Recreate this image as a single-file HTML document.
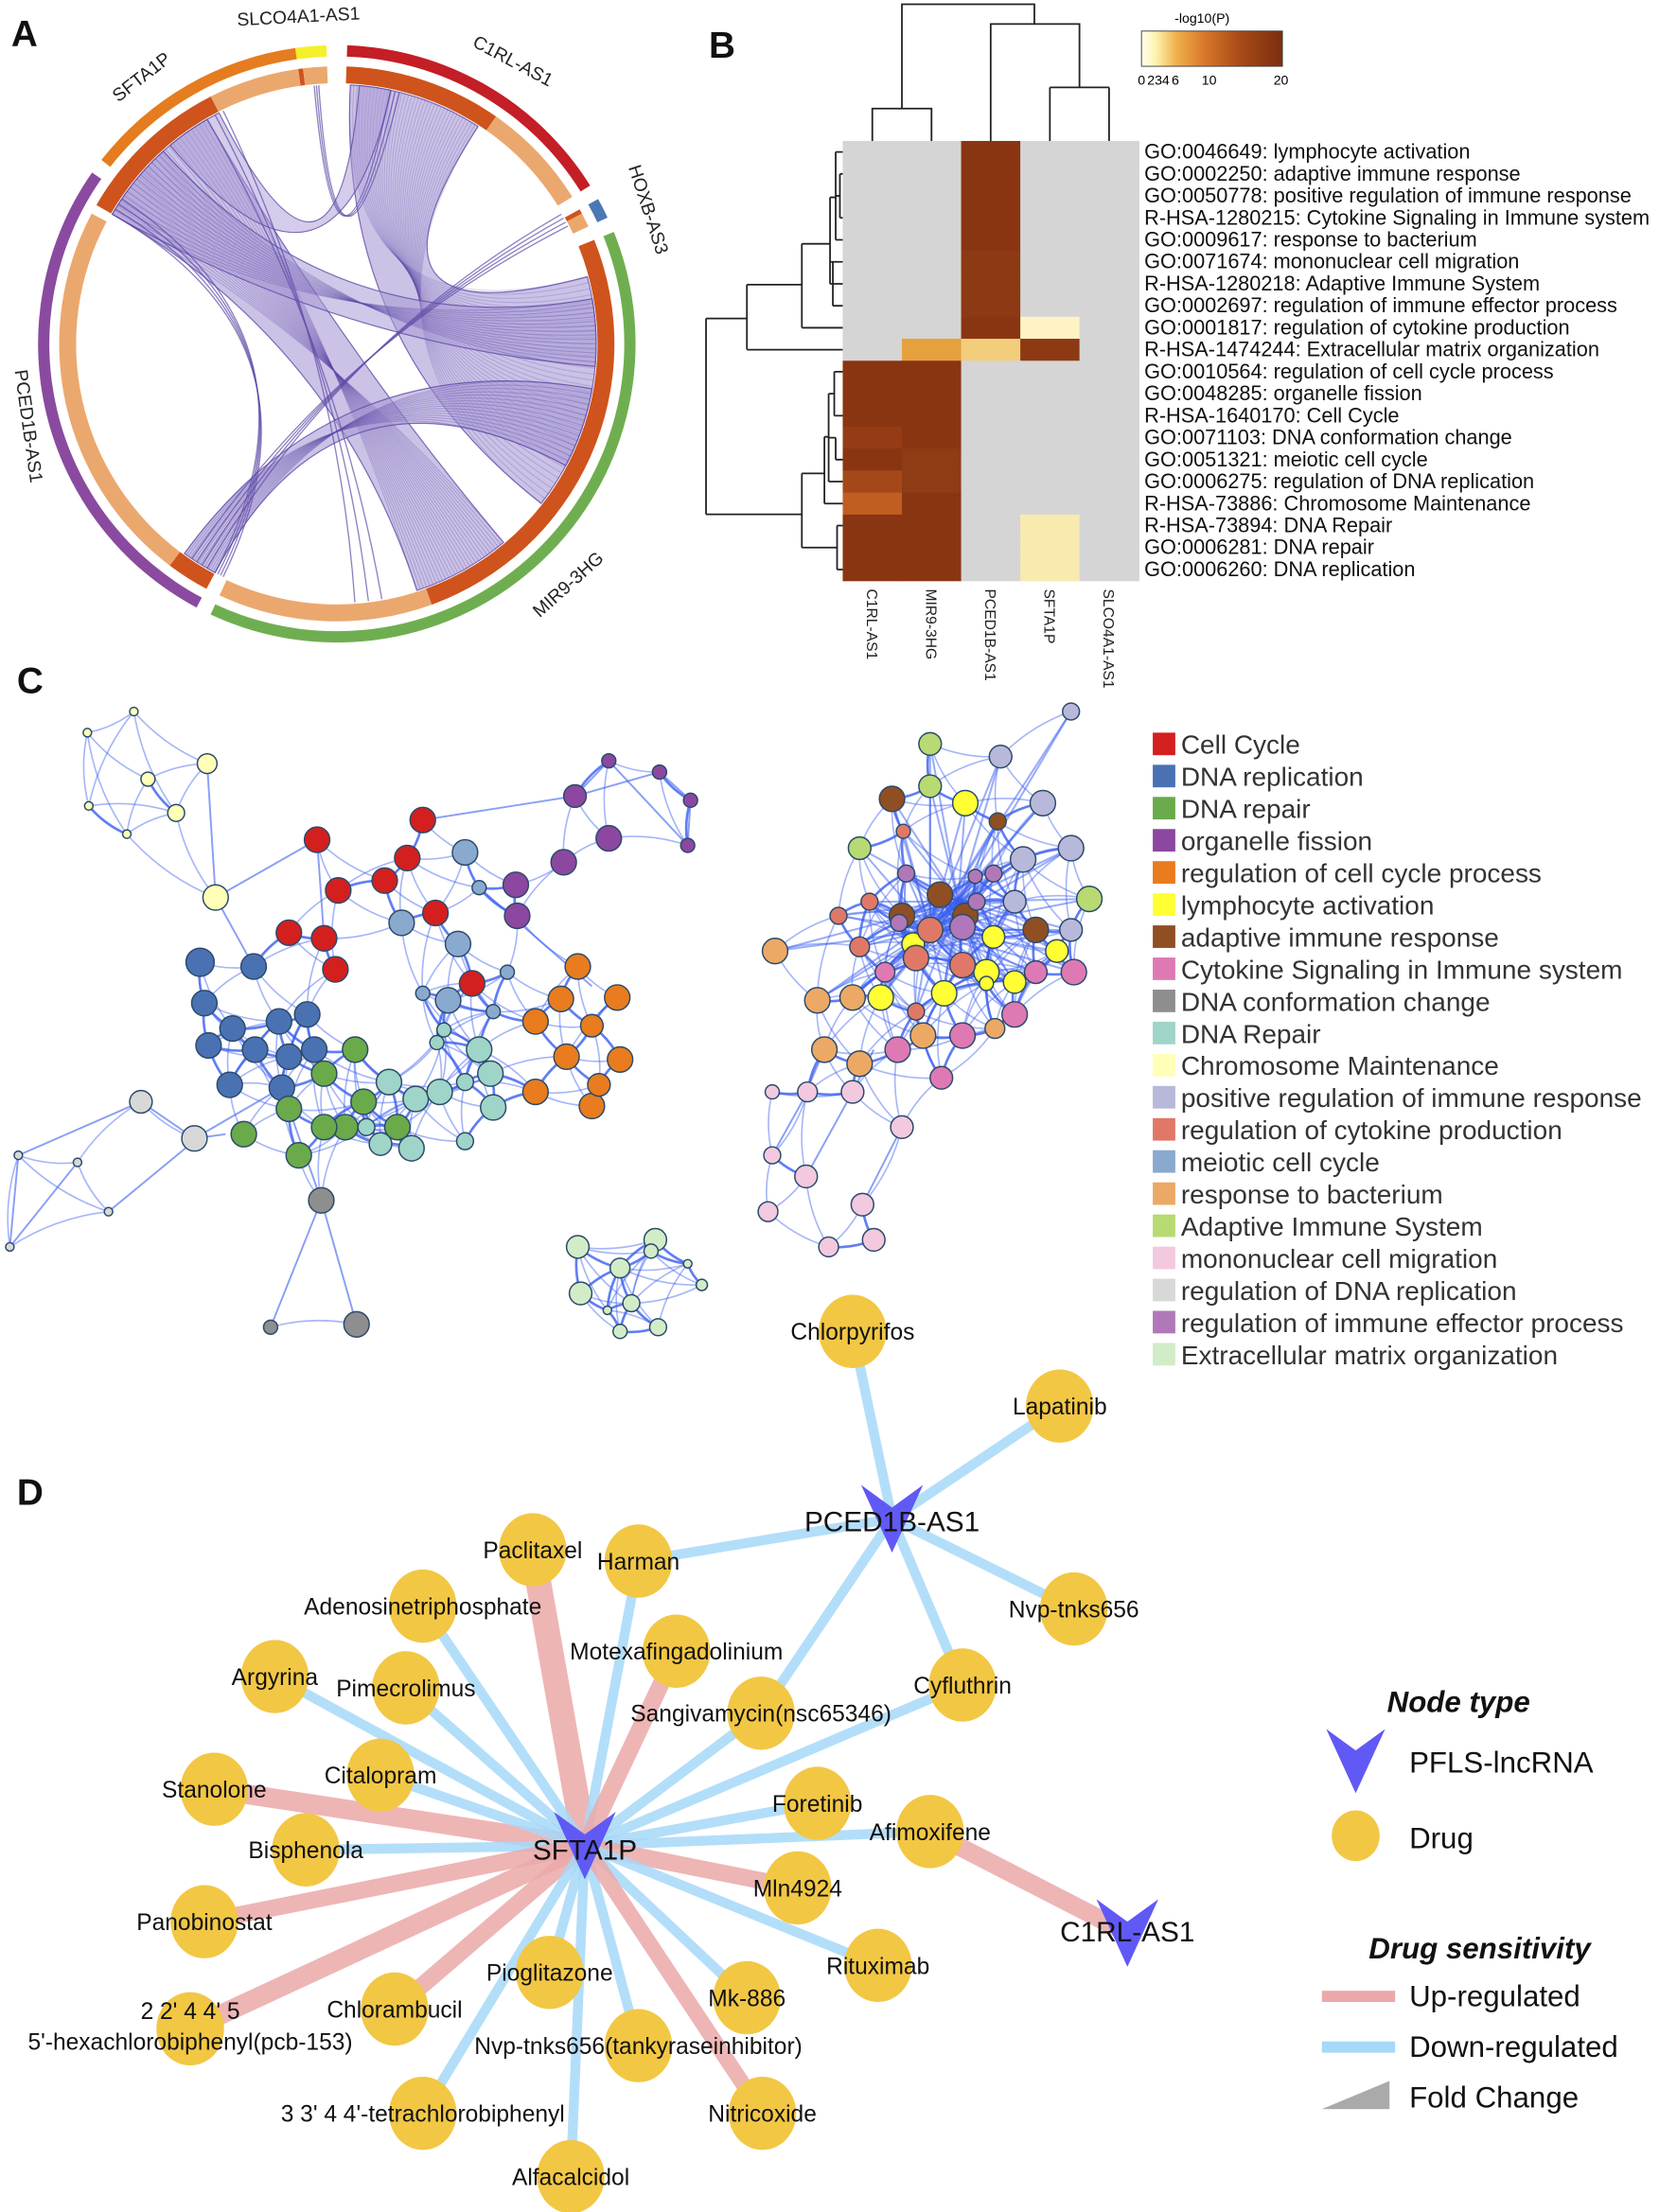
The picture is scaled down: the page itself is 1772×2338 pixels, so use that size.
<!DOCTYPE html>
<html><head><meta charset="utf-8">
<style>
html,body{margin:0;padding:0;background:#fff;}
svg{display:block;font-family:"Liberation Sans",sans-serif;}
</style></head>
<body>
<svg id="s" xmlns="http://www.w3.org/2000/svg" width="1772" height="2338" viewBox="0 0 1190 1570">
<rect width="1190" height="1570" fill="#fff"/>
<g id="A"></g>
<g id="B"></g>
<g id="C"></g>
<g id="D"></g>
<g font-weight="bold" font-size="26" fill="#111">
<text x="8" y="33">A</text><text x="503" y="41">B</text><text x="12" y="492">C</text><text x="12" y="1068">D</text>
</g>
</svg>
<script>
var NS="http://www.w3.org/2000/svg";
function el(p,t,a,txt){var e=document.createElementNS(NS,t);for(var k in a)e.setAttribute(k,a[k]);if(txt!==undefined)e.textContent=txt;p.appendChild(e);return e;}
/* ---------- A chord ---------- */
var A=document.getElementById('A'),cx=239,cy=244;
function P(a,r){var t=(a-90)*Math.PI/180;return [cx+r*Math.cos(t),cy+r*Math.sin(t)];}
function arc(a1,a2,r1,r2,col){var p1=P(a1,r2),p2=P(a2,r2),p3=P(a2,r1),p4=P(a1,r1);var l=(a2-a1)>180?1:0;
el(A,'path',{d:'M'+p1+' A'+r2+' '+r2+' 0 '+l+' 1 '+p2+' L'+p3+' A'+r1+' '+r1+' 0 '+l+' 0 '+p4+'Z',fill:col});}
var segs=[[-8,-2,'#f5f02a'],[2,58,'#c41e26'],[61,65,'#4a78b4'],[68,205,'#6fae50'],[208,305,'#8a4aa0'],[308,352,'#e57c1f']];
segs.forEach(function(s){arc(s[0],s[1],204,212,s[2]);});
var D1='#cf531c',L1='#eba86e';
[[-8,-7,D1],[-7,-2,L1],[2,35,D1],[35,58,L1],[61,62,D1],[62,65,L1],[68,160,D1],[160,205,L1],[208,217,D1],[217,298,L1],[300,333,D1],[333,352,L1]].forEach(function(s){arc(s[0],s[1],185,197,s[2]);});
var R=184;
function ribbon(a1,a2,b1,b2,op){var p1=P(a1,R),p2=P(a2,R),q1=P(b1,R),q2=P(b2,R);
el(A,'path',{d:'M'+p1+' A'+R+' '+R+' 0 0 1 '+p2+' Q'+cx+','+cy+' '+q1+' A'+R+' '+R+' 0 0 1 '+q2+' Q'+cx+','+cy+' '+p1+'Z',fill:'#a99ad6','fill-opacity':op,stroke:'#5f4aa6','stroke-width':0.8,'stroke-opacity':0.8});}
function chords(a1,a2,b1,b2,n,op,w){for(var i=0;i<n;i++){var t=i/(n-1);var pa=P(a1+(a2-a1)*t,R),pb=P(b1+(b2-b1)*t,R);
el(A,'path',{d:'M'+pa+' Q'+cx+','+cy+' '+pb,fill:'none',stroke:'#5f4aa6','stroke-opacity':op,'stroke-width':w});}}
ribbon(3,33,75,128,0.6);chords(3,33,75,128,40,0.25,0.7);
ribbon(300,330,140,162,0.6);chords(300,330,140,162,30,0.3,0.7);
ribbon(300,318,80,95,0.55);chords(300,318,80,95,16,0.35,0.7);
ribbon(208,216,100,118,0.6);chords(208,216,100,118,16,0.35,0.7);
ribbon(5,12,320,333,0.5);
chords(12,14,355,356,3,0.7,0.9);
chords(210,214,60,63,4,0.7,0.9);
chords(300,304,206,208,4,0.7,0.9);
chords(330,334,170,176,3,0.7,0.9);
var ga=el(A,'g',{'font-size':13,fill:'#222'});
function rt(x,y,r,t){el(ga,'text',{x:0,y:0,transform:'translate('+x+','+y+') rotate('+r+')','text-anchor':'middle'},t);}
rt(212,16,-3,'SLCO4A1-AS1');rt(362,47,28,'C1RL-AS1');rt(456,150,72,'HOXB-AS3');rt(406,418,-42,'MIR9-3HG');rt(16,303,82,'PCED1B-AS1');rt(103,58,-38,'SFTA1P');
/* ---------- B heatmap ---------- */
var B=document.getElementById('B');
var hx=598,hy=100,cw=42,rh=15.6;
var G='#d5d5d5',DK='#8a3512';
var labels=['GO:0046649: lymphocyte activation','GO:0002250: adaptive immune response','GO:0050778: positive regulation of immune response','R-HSA-1280215: Cytokine Signaling in Immune system','GO:0009617: response to bacterium','GO:0071674: mononuclear cell migration','R-HSA-1280218: Adaptive Immune System','GO:0002697: regulation of immune effector process','GO:0001817: regulation of cytokine production','R-HSA-1474244: Extracellular matrix organization','GO:0010564: regulation of cell cycle process','GO:0048285: organelle fission','R-HSA-1640170: Cell Cycle','GO:0071103: DNA conformation change','GO:0051321: meiotic cell cycle','GO:0006275: regulation of DNA replication','R-HSA-73886: Chromosome Maintenance','R-HSA-73894: DNA Repair','GO:0006281: DNA repair','GO:0006260: DNA replication'];
for(var r=0;r<20;r++){var c=[G,G,G,G,G];
if(r<9)c[2]=(r>=5&&r<=7)?'#8d3a14':DK;
if(r==8)c[3]='#fdf3c4';
if(r==9){c[1]='#e6a03e';c[2]='#f2cd7c';c[3]='#8d3a14';}
if(r>=10){c[0]=DK;c[1]=DK;}
if(r==13)c[0]='#963c14';if(r==14){c[1]='#8f3c15';}if(r==15){c[0]='#a4481a';c[1]='#8f3c15';}if(r==16)c[0]='#c05e22';
if(r>=17)c[3]='#f9eab0';
for(var k=0;k<5;k++)el(B,'rect',{x:hx+k*cw,y:hy+r*rh,width:cw+0.5,height:rh+0.5,fill:c[k]});
el(B,'text',{x:812,y:hy+r*rh+12.5,'font-size':14.6,fill:'#111'},labels[r]);}
var dl='fill:none;stroke:#222;stroke-width:1.2';
el(B,'path',{d:'M619,100 V77 H661 V100 M640,77 V3 H734 V17 M703,100 V17 H766 V62 M745,62 H787 M745,62 V100 M787,62 V100',style:dl});
function ry(i){return 100+7.8+15.6*i;}
var Ld='M501,226 V365 M501,226 H530 M530,202 V248 M530,'+ry(9)+' H598 M530,202 H569 M569,173 V'+ry(8)+' M569,'+ry(8)+' H598 M569,173 H589 M589,140 V'+ry(6)+' M589,'+ry(6)+' H598 M589,140 H593 M593,'+ry(0)+' V'+ry(4)+' M593,'+ry(0)+' H598 M593,'+ry(4)+' H598 M593,'+ry(2)+' H596 M596,'+ry(1)+' V'+ry(3)+' M596,'+ry(1)+' H598 M596,'+ry(3)+' H598 M589,'+ry(5)+' H598 M591,'+ry(7)+' H598 M591,'+ry(5)+' V'+ry(7)+
' M501,365 H569 M569,336 V'+ry(18)+' M569,'+ry(18)+' H594 M594,'+ry(17)+' V'+ry(19)+' M594,'+ry(17)+' H598 M594,'+ry(19)+' H598 M569,336 H585 M585,310 V'+ry(16)+' M585,'+ry(16)+' H598 M585,310 H588 M588,'+ry(11)+' V'+ry(15)+' M588,'+ry(15)+' H598 M588,'+ry(11)+' H592 M592,'+ry(10)+' V'+ry(12)+' M592,'+ry(10)+' H598 M592,'+ry(12)+' H598 M588,'+ry(13)+' H593 M593,'+ry(13)+' V'+ry(14)+' M593,'+ry(14)+' H598';
el(B,'path',{d:Ld,style:dl});
var grd=el(B,'defs',{});var lg=el(grd,'linearGradient',{id:'hg'});
[['0','#fffff0'],['0.1','#fdf3b0'],['0.25','#f0b04a'],['0.45','#d8772a'],['0.7','#a84a18'],['1','#7a2e0e']].forEach(function(s){el(lg,'stop',{offset:s[0],'stop-color':s[1]});});
el(B,'rect',{x:810,y:22,width:100,height:25,fill:'url(#hg)',stroke:'#333','stroke-width':0.6});
el(B,'text',{x:853,y:16,'font-size':9.5,'text-anchor':'middle'},'-log10(P)');
[['0',810],['234',822],['6',834],['10',858],['20',909]].forEach(function(t){el(B,'text',{x:t[1],y:60,'font-size':9.5,'text-anchor':'middle'},t[0]);});
['C1RL-AS1','MIR9-3HG','PCED1B-AS1','SFTA1P','SLCO4A1-AS1'].forEach(function(t,i){el(B,'text',{x:0,y:0,transform:'translate('+(hx+i*cw+17)+',418) rotate(90)','font-size':10.5,fill:'#222'},t);});
/* ---------- C network ---------- */
var C=document.getElementById('C');
var col={cc:'#d41f1f',dr:'#4a72b3',rp:'#6aaa4a',of:'#8c47a0',rc:'#e87c1e',ly:'#ffff33',ai:'#8f4f22',cy:'#de79b4',dc:'#8e8e8e',DR:'#9fd4c8',ch:'#ffffb8',pr:'#b8b8da',rk:'#e07868',mc:'#8aa9cf',rb:'#eca965',AS:'#b7da72',mo:'#f2c9df',rd:'#d8d8d8',re:'#b078b8',ec:'#d2ecc8'};
var N=[
[1,62,520,3,'ch'],[1,95,505,3,'ch'],[1,147,542,7,'ch'],[1,105,553,5,'ch'],[1,125,577,6,'ch'],[1,63,572,3,'ch'],[1,90,592,3,'ch'],[1,153,637,9,'ch'],
[2,225,596,9,'cc'],[2,273,625,9,'cc'],[2,289,609,9,'cc'],[2,300,582,9,'cc'],[2,309,648,9,'cc'],[2,240,632,9,'cc'],[2,205,662,9,'cc'],[2,230,666,9,'cc'],[2,238,688,9,'cc'],[2,335,698,9,'cc'],
[2,142,683,10,'dr'],[2,180,686,9,'dr'],[2,145,712,9,'dr'],[2,165,730,9,'dr'],[2,198,725,9,'dr'],[2,218,720,9,'dr'],[2,148,742,9,'dr'],[2,181,745,9,'dr'],[2,205,750,9,'dr'],[2,223,745,9,'dr'],[2,200,772,9,'dr'],[2,163,770,9,'dr'],
[2,252,745,9,'rp'],[2,230,762,9,'rp'],[2,205,787,9,'rp'],[2,258,782,9,'rp'],[2,173,805,9,'rp'],[2,212,820,9,'rp'],[2,245,800,9,'rp'],[2,282,800,9,'rp'],[2,230,800,9,'rp'],
[2,330,605,9,'mc'],[2,285,655,9,'mc'],[2,325,670,9,'mc'],[2,318,710,9,'mc'],[2,340,630,5,'mc'],[2,360,690,5,'mc'],[2,300,705,5,'mc'],[2,350,718,5,'mc'],
[2,366,628,9,'of'],[2,432,540,5,'of'],[2,408,565,8,'of'],[2,468,548,5,'of'],[2,490,568,5,'of'],[2,488,600,5,'of'],[2,432,595,9,'of'],[2,400,612,9,'of'],[2,367,650,9,'of'],
[2,410,686,9,'rc'],[2,398,709,9,'rc'],[2,380,725,9,'rc'],[2,438,708,9,'rc'],[2,402,750,9,'rc'],[2,440,752,9,'rc'],[2,380,775,9,'rc'],[2,420,785,9,'rc'],[2,425,770,8,'rc'],[2,420,728,8,'rc'],
[2,276,768,9,'DR'],[2,295,780,9,'DR'],[2,340,745,9,'DR'],[2,312,775,9,'DR'],[2,292,815,9,'DR'],[2,270,812,8,'DR'],[2,315,731,5,'DR'],[2,350,786,9,'DR'],[2,348,762,9,'DR'],[2,330,768,6,'DR'],[2,260,800,6,'DR'],[2,310,740,5,'DR'],[2,330,810,6,'DR'],
[2,228,852,9,'dc'],[3,253,940,9,'dc'],[3,192,942,5,'dc'],
[4,100,782,8,'rd'],[4,138,808,9,'rd'],[4,13,820,3,'rd'],[4,55,825,3,'rd'],[4,77,860,3,'rd'],[4,7,885,3,'rd'],
[5,660,528,8,'AS'],[5,760,505,6,'pr'],[5,710,537,8,'pr'],[5,740,570,9,'pr'],[5,633,567,9,'ai'],[5,660,558,8,'AS'],[5,685,570,9,'ly'],[5,708,583,6,'ai'],[5,760,602,9,'pr'],[5,726,610,9,'pr'],[5,773,638,9,'AS'],[5,610,602,8,'AS'],[5,641,590,5,'rk'],[5,643,620,6,'re'],[5,705,620,6,'re'],[5,640,650,9,'ai'],[5,667,635,9,'ai'],[5,685,650,9,'ai'],[5,692,622,5,'re'],[5,720,640,8,'pr'],[5,617,640,6,'rk'],[5,638,655,6,'re'],[5,648,670,8,'ly'],[5,660,660,9,'rk'],[5,683,658,9,'re'],[5,705,665,8,'ly'],[5,735,660,9,'ai'],[5,735,690,8,'cy'],[5,700,690,9,'ly'],[5,720,697,8,'ly'],[5,683,685,9,'rk'],[5,595,650,6,'rk'],[5,610,672,7,'rk'],[5,628,690,7,'cy'],[5,650,680,9,'rk'],[5,625,708,9,'ly'],[5,700,698,5,'ly'],[5,760,660,8,'pr'],[5,750,675,8,'ly'],[5,762,690,9,'cy'],[5,693,640,6,'re'],[5,670,705,9,'ly'],[5,650,718,6,'rk'],
[5,550,675,9,'rb'],[5,580,710,9,'rb'],[5,605,708,9,'rb'],[5,585,745,9,'rb'],[5,610,755,9,'rb'],[5,637,745,9,'cy'],[5,655,735,9,'rb'],[5,683,735,9,'cy'],[5,720,720,9,'cy'],[5,668,765,8,'cy'],[5,706,730,7,'rb'],
[5,548,775,5,'mo'],[5,548,820,6,'mo'],[5,573,775,7,'mo'],[5,605,775,8,'mo'],[5,545,860,7,'mo'],[5,572,835,8,'mo'],[5,588,885,7,'mo'],[5,612,855,8,'mo'],[5,640,800,8,'mo'],[5,620,880,8,'mo'],
[6,410,885,8,'ec'],[6,465,880,8,'ec'],[6,440,900,7,'ec'],[6,462,888,5,'ec'],[6,488,897,3,'ec'],[6,412,918,8,'ec'],[6,448,925,6,'ec'],[6,498,912,4,'ec'],[6,440,945,5,'ec'],[6,467,942,6,'ec'],[6,431,930,3,'ec']];
var eg=el(C,'g',{fill:'none',stroke:'#3a5ef0'});
for(var i=0;i<N.length;i++)for(var j=i+1;j<N.length;j++){var a=N[i],b=N[j];if(a[0]!=b[0])continue;var d=Math.hypot(a[1]-b[1],a[2]-b[2]);var lim=(a[0]==1||a[0]==4||a[0]==3)?80:(a[0]==6?60:(a[0]==5?62:58));
if(d<lim&&((i*7+j*3)%4!=0||d<35)){var mx=(a[1]+b[1])/2+(a[2]-b[2])*0.12,my=(a[2]+b[2])/2-(a[1]-b[1])*0.12;el(eg,'path',{d:'M'+a[1]+','+a[2]+' Q'+mx+','+my+' '+b[1]+','+b[2],'stroke-width':(d<35?1.8:1.1),'stroke-opacity':(d<35?0.8:0.45)});}}
var hubs=[[660,660],[680,640]];
N.forEach(function(n){if(n[0]==5&&n[2]<720)hubs.forEach(function(h){el(eg,'line',{x1:h[0],y1:h[1],x2:n[1],y2:n[2],'stroke-width':1.4,'stroke-opacity':0.5});});});
[[147,542,153,637],[153,637,225,596],[153,637,180,686],[228,852,253,940],[228,852,192,942],[205,787,228,852],[138,808,200,772],[100,782,138,808],[138,808,160,805],[100,782,13,820],[140,808,77,860],[55,825,7,885],[13,820,7,885],[225,596,230,666],[300,582,408,565],[340,630,420,700],[585,745,572,775],[605,775,620,745],[432,540,408,565],[468,548,490,568],[490,568,488,600],[432,540,488,600],[408,565,468,548],[612,855,640,800],[572,835,605,775],[548,820,573,775]].forEach(function(e){el(eg,'line',{x1:e[0],y1:e[1],x2:e[2],y2:e[3],'stroke-width':1.3,'stroke-opacity':0.6});});
var ng=el(C,'g',{stroke:'#2b4a6a','stroke-width':1});
N.forEach(function(n){el(ng,'circle',{cx:n[1],cy:n[2],r:n[3],fill:col[n[4]]});});
var leg=[['cc','Cell Cycle'],['dr','DNA replication'],['rp','DNA repair'],['of','organelle fission'],['rc','regulation of cell cycle process'],['ly','lymphocyte activation'],['ai','adaptive immune response'],['cy','Cytokine Signaling in Immune system'],['dc','DNA conformation change'],['DR','DNA Repair'],['ch','Chromosome Maintenance'],['pr','positive regulation of immune response'],['rk','regulation of cytokine production'],['mc','meiotic cell cycle'],['rb','response to bacterium'],['AS','Adaptive Immune System'],['mo','mononuclear cell migration'],['rd','regulation of DNA replication'],['re','regulation of immune effector process'],['ec','Extracellular matrix organization']];
leg.forEach(function(l,i){var y=520+i*22.8;el(C,'rect',{x:818,y:y,width:16,height:16,fill:col[l[0]]});el(C,'text',{x:838,y:y+15,'font-size':18.8,fill:'#333'},l[1]);});
/* ---------- D drug network ---------- */
var D=document.getElementById('D');
var S=[415,1310],PC=[633,1078],CR=[800,1372];
var drugs=[
['Chlorpyrifos',605,945,'P','b'],['Lapatinib',752,998,'P','b'],['Harman',453,1108,'P','b'],['Nvp-tnks656',762,1142,'P','b'],['Cyfluthrin',683,1196,'P','b'],['Sangivamycin(nsc65346)',540,1216,'P','b'],
['Paclitaxel',378,1100,'S','r',18],['Harman',453,1108,'S','b'],['Adenosinetriphosphate',300,1140,'S','b'],['Motexafingadolinium',480,1172,'S','r',12],['Argyrina',195,1190,'S','b'],['Pimecrolimus',288,1198,'S','b'],['Sangivamycin(nsc65346)',540,1216,'S','b'],['Cyfluthrin',683,1196,'S','b'],['Stanolone',152,1270,'S','r',14],['Citalopram',270,1260,'S','b'],['Foretinib',580,1280,'S','b'],['Afimoxifene',660,1300,'S','b'],['Afimoxifene',660,1300,'C','r',13],['Bisphenola',217,1313,'S','b'],['Mln4924',566,1340,'S','r',12],['Panobinostat',145,1364,'S','r',12],['Rituximab',623,1395,'S','b'],['Pioglitazone',390,1400,'S','b'],['Chlorambucil',280,1426,'S','r',12],['Mk-886',530,1418,'S','b'],['2 2\' 4 4\' 5',135,1440,'S','r',14],['Nvp-tnks656(tankyraseinhibitor)',453,1452,'S','b'],['3 3\' 4 4\'-tetrachlorobiphenyl',300,1500,'S','b'],['Nitricoxide',541,1500,'S','r',11],['Alfacalcidol',405,1545,'S','b']];
var edg=el(D,'g',{'stroke-linecap':'butt'});
drugs.forEach(function(d){var h=d[3]=='P'?PC:(d[3]=='C'?CR:S);el(edg,'line',{x1:d[1],y1:d[2],x2:h[0],y2:h[1],stroke:d[4]=='r'?'#eba8a8':'#a6d8f8','stroke-width':d[4]=='r'?d[5]:7,'stroke-opacity':0.85});});
var seen={};var ng2=el(D,'g',{});
drugs.forEach(function(d){if(seen[d[0]])return;seen[d[0]]=1;el(ng2,'ellipse',{cx:d[1],cy:d[2],rx:24,ry:26,fill:'#f2c744'});});
function chev(x,y,s){el(D,'path',{d:'M'+(x-22*s)+','+(y-24*s)+' L'+x+','+(y-8*s)+' L'+(x+22*s)+','+(y-24*s)+' L'+x+','+(y+24*s)+'Z',fill:'#6159f5'});}
chev(S[0],S[1],1);chev(PC[0],PC[1],1);chev(CR[0],CR[1],1);
var tg=el(D,'g',{'font-size':16.5,fill:'#111','text-anchor':'middle'});
seen={};drugs.forEach(function(d){if(seen[d[0]])return;seen[d[0]]=1;var lx=d[1],ly=d[2]+6;
if(d[0].indexOf('2 2')==0)ly=d[2]-7;
el(tg,'text',{x:lx,y:ly},d[0]);});
el(tg,'text',{x:135,y:1455},'5\'-hexachlorobiphenyl(pcb-153)');
el(tg,'text',{x:415,y:1320,'font-size':20},'SFTA1P');
el(tg,'text',{x:633,y:1087,'font-size':20},'PCED1B-AS1');
el(tg,'text',{x:800,y:1378,'font-size':20},'C1RL-AS1');
var lgD=el(D,'g',{'font-size':21,fill:'#111'});
el(lgD,'text',{x:1035,y:1215,'font-weight':'bold','font-style':'italic','text-anchor':'middle'},'Node type');
chev(962,1250,0.95);el(lgD,'text',{x:1000,y:1258},'PFLS-lncRNA');
el(D,'ellipse',{cx:962,cy:1303,rx:17,ry:18,fill:'#f2c744'});el(lgD,'text',{x:1000,y:1312},'Drug');
el(lgD,'text',{x:1050,y:1390,'font-weight':'bold','font-style':'italic','text-anchor':'middle'},'Drug sensitivity');
el(D,'line',{x1:938,y1:1417,x2:990,y2:1417,stroke:'#eba8a8','stroke-width':8});el(lgD,'text',{x:1000,y:1424},'Up-regulated');
el(D,'line',{x1:938,y1:1453,x2:990,y2:1453,stroke:'#a6d8f8','stroke-width':8});el(lgD,'text',{x:1000,y:1460},'Down-regulated');
el(D,'path',{d:'M938,1497 L986,1497 L986,1477 Z',fill:'#aaa'});el(lgD,'text',{x:1000,y:1496},'Fold Change');
</script>
</body></html>
